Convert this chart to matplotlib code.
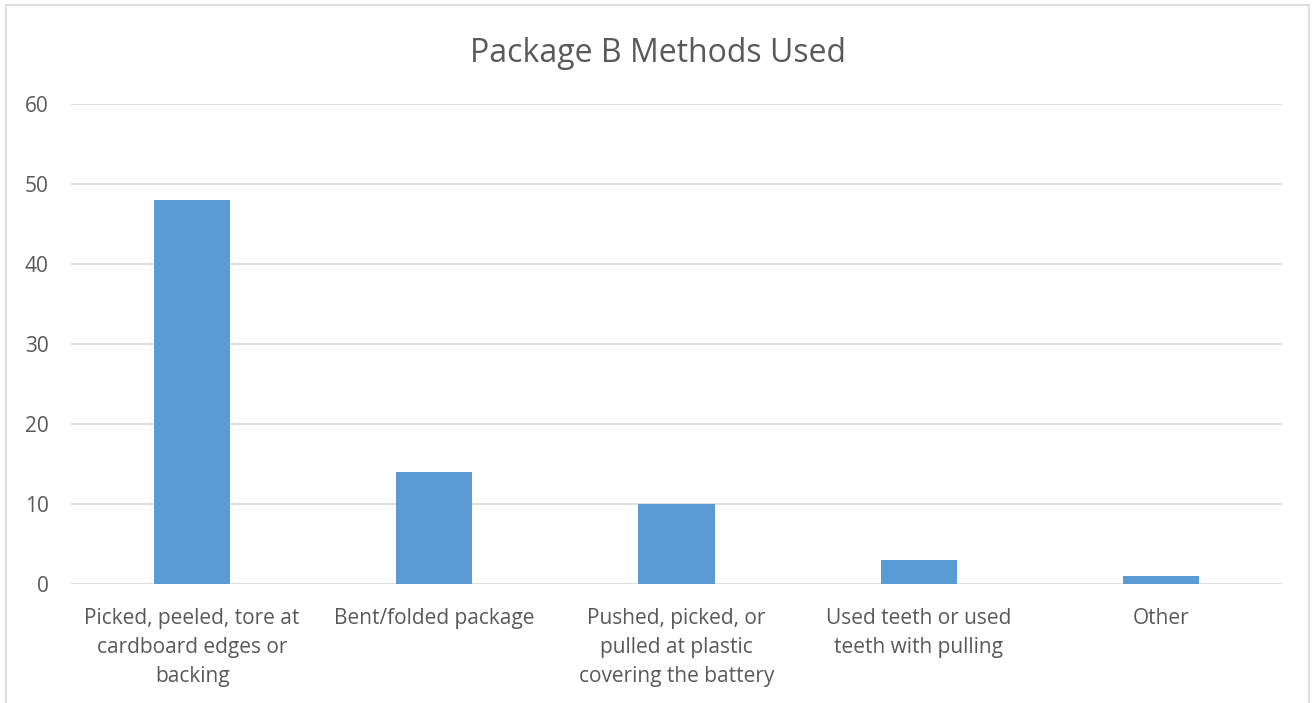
import matplotlib.pyplot as plt
from matplotlib.patches import Rectangle

categories = [
    "Picked, peeled, tore at\ncardboard edges or\nbacking",
    "Bent/folded package",
    "Pushed, picked, or\npulled at plastic\ncovering the battery",
    "Used teeth or used\nteeth with pulling",
    "Other",
]
values = [48, 14, 10, 3, 1]
yticks = [0, 10, 20, 30, 40, 50, 60]

plt.rcParams['font.family'] = ['Open Sans', 'DejaVu Sans']
grey = '#595959'

fig = plt.figure(figsize=(13.12, 7.03), dpi=100)
ax = fig.add_axes([71 / 1312, 1 - 584 / 703, (1282 - 71) / 1312, 480 / 703])

x = list(range(len(values)))
ax.bar(x, values, width=0.314, color='#5B9BD5', zorder=3)
ax.set_xlim(-0.5, len(values) - 0.5)
ax.set_ylim(0, 60)
ax.set_yticks(yticks)
ax.set_xticks(x)
ax.set_xticklabels(categories, fontsize=15, color=grey, linespacing=1.52)
ax.tick_params(axis='y', labelsize=15, labelcolor=grey, length=0, pad=16)
ax.tick_params(axis='x', length=0, pad=17)
ax.grid(axis='y', color='#D9D9D9', linewidth=1.2, zorder=0)
for s in ax.spines.values():
    s.set_visible(False)

fig.text(658 / 1312, 1 - 53 / 703, "Package B Methods Used", ha='center', va='center',
         fontsize=23, color=grey)

# chart border (bottom edge cropped out of the picture)
fig.patches.append(Rectangle((6 / 1312, -0.05), (1309 - 6) / 1312, 1.05 - 5 / 703,
                             transform=fig.transFigure, fill=False,
                             edgecolor='#D9D9D9', linewidth=1.2))

fig.savefig('out.png', dpi=100, facecolor='white')
